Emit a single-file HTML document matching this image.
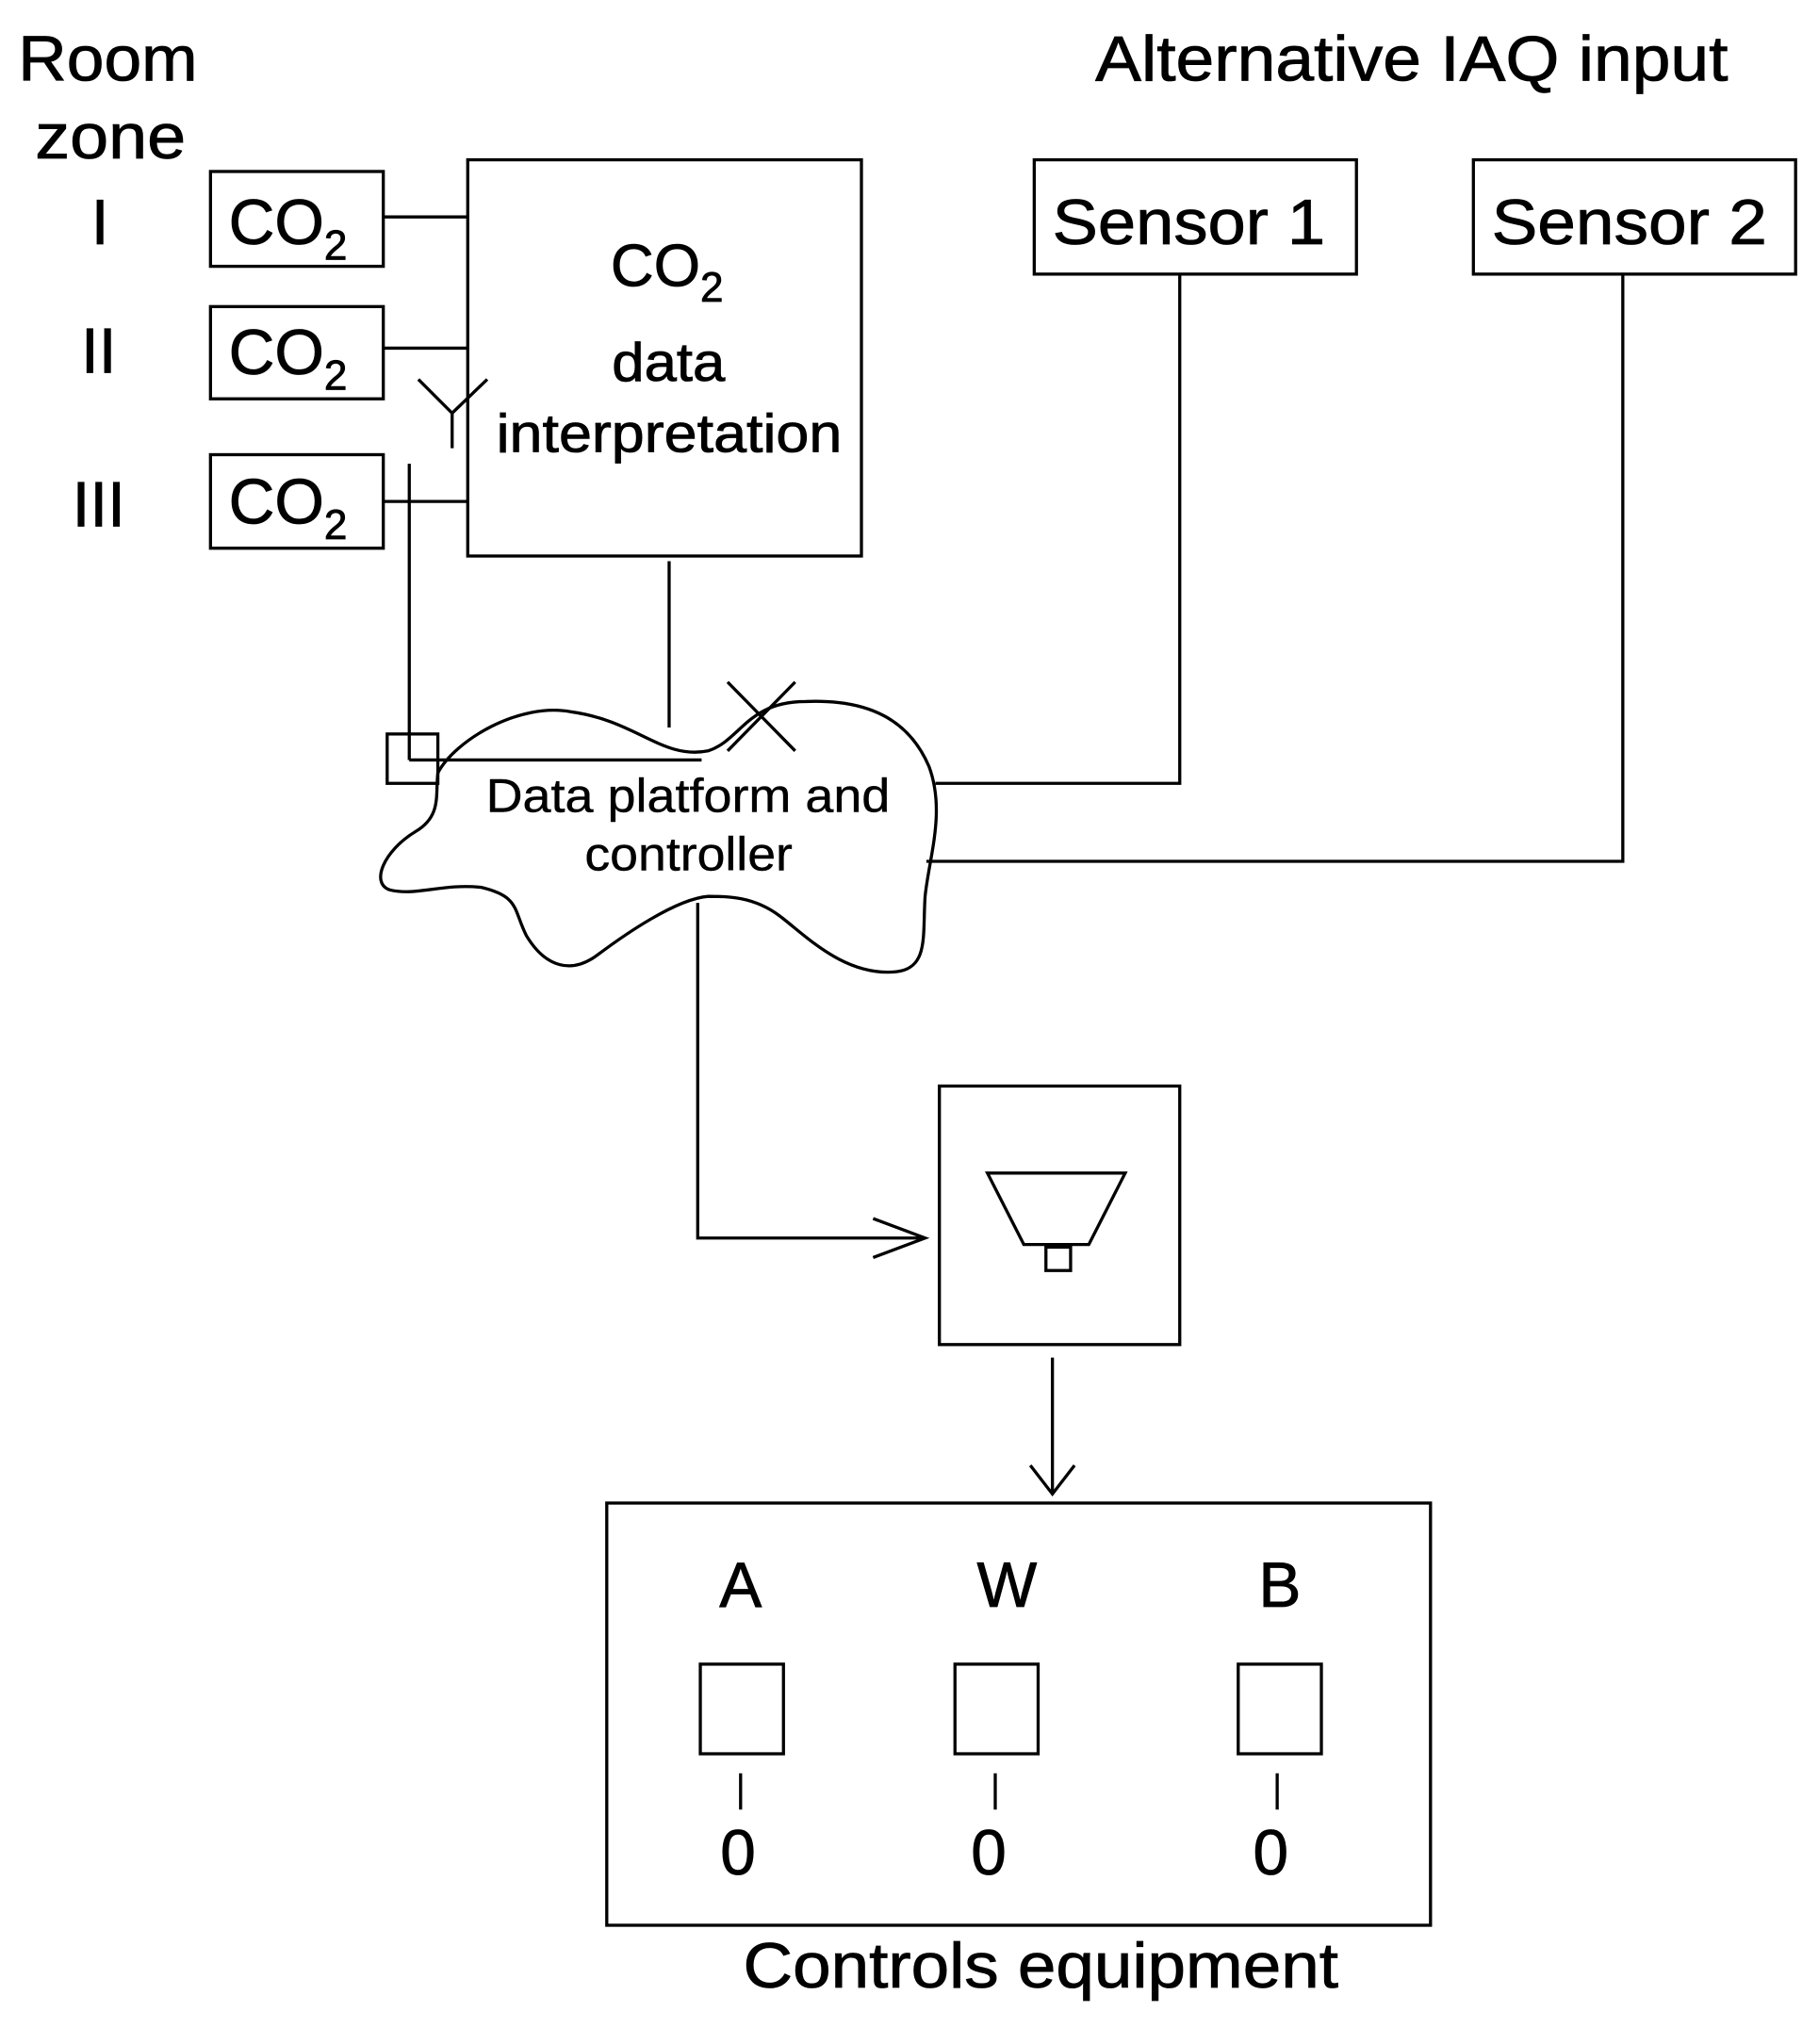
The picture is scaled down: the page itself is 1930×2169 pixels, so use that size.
<!DOCTYPE html>
<html><head><meta charset="utf-8"><style>html,body{margin:0;padding:0;background:#fff}svg{display:block}</style></head>
<body>
<svg width="1930" height="2169" viewBox="0 0 1400 1573.4" preserveAspectRatio="none" xmlns="http://www.w3.org/2000/svg" font-family="Liberation Sans, sans-serif" fill="none" stroke="#000" stroke-width="2.4">
<g fill="#000" stroke="#000" stroke-width="0.6" font-size="49">
<text x="14" y="62" textLength="138" lengthAdjust="spacingAndGlyphs">Room</text>
<text x="27" y="122" textLength="116" lengthAdjust="spacingAndGlyphs">zone</text>
<text x="77" y="188" text-anchor="middle">I</text>
<text x="76" y="287" text-anchor="middle">II</text>
<text x="76" y="405" text-anchor="middle">III</text>
<text x="843" y="62" textLength="487" lengthAdjust="spacingAndGlyphs">Alternative IAQ input</text>
<text x="810" y="188" textLength="210" lengthAdjust="spacingAndGlyphs">Sensor 1</text>
<text x="1148" y="188" textLength="212" lengthAdjust="spacingAndGlyphs">Sensor 2</text>
<text x="176" y="188">CO<tspan font-size="32" dy="12">2</tspan></text>
<text x="176" y="288">CO<tspan font-size="32" dy="12">2</tspan></text>
<text x="176" y="403">CO<tspan font-size="32" dy="12">2</tspan></text>
<text x="470" y="220" font-size="46">CO<tspan font-size="32" dy="12">2</tspan></text>
<text x="471" y="293" font-size="42" textLength="87" lengthAdjust="spacingAndGlyphs">data</text>
<text x="382" y="348" font-size="42" textLength="266" lengthAdjust="spacingAndGlyphs">interpretation</text>
<text x="374" y="625" font-size="36" stroke-width="0.3" textLength="311" lengthAdjust="spacingAndGlyphs">Data platform and</text>
<text x="450" y="670" font-size="36" stroke-width="0.3" textLength="160" lengthAdjust="spacingAndGlyphs">controller</text>
<text x="570" y="1237" text-anchor="middle">A</text>
<text x="775" y="1237" text-anchor="middle">W</text>
<text x="985" y="1237" text-anchor="middle">B</text>
<text x="568" y="1443" text-anchor="middle">0</text>
<text x="761" y="1443" text-anchor="middle">0</text>
<text x="978" y="1443" text-anchor="middle">0</text>
<text x="572" y="1530" textLength="458" lengthAdjust="spacingAndGlyphs">Controls equipment</text>
</g>
<rect x="162" y="132" width="133" height="73"/>
<rect x="162" y="236" width="133" height="71"/>
<rect x="162" y="350" width="133" height="72"/>
<path d="M295 167H360M295 268H360M295 386H360"/>
<rect x="360" y="123" width="303" height="305"/>
<path d="M322 292L348 318L375 292M348 318V345"/>
<path d="M315 357V585"/>
<rect x="298" y="565" width="39" height="38"/>
<path d="M315 585H540"/>
<path d="M515 432V560"/>
<path d="M560 525L612 578M612 525L560 578"/>
<path d="M337 595 C350 570 400 540 440 548 C490 555 510 585 545 578 C570 570 575 540 620 540 C670 538 700 555 715 590 C728 625 715 660 712 690 C710 720 715 745 690 748 C650 752 620 720 600 705 C580 690 560 690 545 690 C520 692 480 720 460 735 C440 750 420 745 405 720 C395 700 400 690 370 683 C340 680 320 690 300 685 C285 680 295 655 320 640 C340 628 335 612 337 595Z"/>
<rect x="796" y="123" width="248" height="88"/>
<rect x="1134" y="123" width="248" height="88"/>
<path d="M908 211V603H720M1249 211V663H713"/>
<path d="M537 695V953H712M672 938L712 953L672 968"/>
<rect x="723" y="836" width="185" height="199"/>
<path d="M760 903H866L838 958H788Z"/>
<rect x="805" y="960" width="19" height="18"/>
<path d="M810 1045V1150M793 1128L810 1150L827 1128"/>
<rect x="467" y="1157" width="634" height="325"/>
<rect x="539" y="1281" width="64" height="69"/>
<rect x="735" y="1281" width="64" height="69"/>
<rect x="953" y="1281" width="64" height="69"/>
<path d="M570 1365V1393M766 1365V1393M983 1365V1393"/>
</svg>
</body></html>
